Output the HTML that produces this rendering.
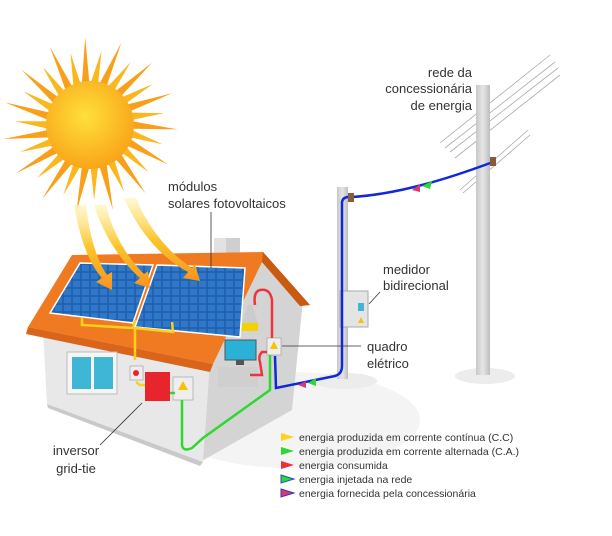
<!DOCTYPE html>
<html><head><meta charset="utf-8"><style>
html,body{margin:0;padding:0;background:#fff}
svg{display:block}
text{font-family:"Liberation Sans",sans-serif;fill:#333}
</style></head><body>
<svg id="s" width="612" height="536" viewBox="0 0 612 536" xmlns="http://www.w3.org/2000/svg">
<defs>
<radialGradient id="sunc" cx="0.45" cy="0.4" r="0.6"><stop offset="0" stop-color="#ffe03a"/><stop offset="1" stop-color="#f9a51a"/></radialGradient>
<linearGradient id="beam" x1="0" y1="0" x2="0" y2="1"><stop offset="0" stop-color="#fff3b0" stop-opacity="0.6"/><stop offset="0.5" stop-color="#fcc52a"/><stop offset="1" stop-color="#f7931e"/></linearGradient>
<linearGradient id="pole" x1="0" x2="1"><stop offset="0" stop-color="#c8c8c8"/><stop offset="0.5" stop-color="#e6e6e6"/><stop offset="1" stop-color="#bdbdbd"/></linearGradient>
<pattern id="cells" width="9" height="8" patternUnits="userSpaceOnUse"><rect width="9" height="8" fill="#1f5fae"/><rect x="0.8" y="0.8" width="7.4" height="6.4" fill="#2f78c8"/></pattern>
</defs>
<!-- ground shadows -->
<ellipse cx="290" cy="420" rx="130" ry="48" fill="#f4f4f4"/>
<ellipse cx="345" cy="381" rx="32" ry="8" fill="#ececec"/>
<ellipse cx="485" cy="376" rx="30" ry="8" fill="#ececec"/>
<!-- wires -->
<g stroke="#aaa" stroke-width="0.8">
<line x1="440" y1="143" x2="550" y2="55"/><line x1="445" y1="148" x2="555" y2="62"/><line x1="450" y1="152" x2="558" y2="68"/><line x1="455" y1="158" x2="560" y2="75"/>
<line x1="460" y1="190" x2="528" y2="130"/><line x1="463" y1="193" x2="530" y2="135"/>
</g>
<!-- poles -->
<rect x="337" y="187" width="11" height="192" fill="url(#pole)"/>
<rect x="476" y="85" width="14" height="290" fill="url(#pole)"/>
<!-- sun rays -->
<g id="rays"></g>
<circle cx="90" cy="125" r="44" fill="url(#sunc)"/>
<!-- house side wall -->
<polygon points="203,363 262,258 303,300 292,410 200,462" fill="#d4d4d4"/>
<!-- front wall -->
<polygon points="43,330 210,362 203,462 47,404" fill="#e8e8e8"/>
<polygon points="47,404 203,462 200,466 48,408" fill="#c9c9c9"/>
<!-- chimney -->
<rect x="214" y="238" width="26" height="18" fill="#cfcfcf"/><rect x="214" y="238" width="12" height="18" fill="#e2e2e2"/>
<!-- roof -->
<polygon points="72,255 263,252 310,305 300,306 262,262 213,364 28,327" fill="#f07a22"/>
<polygon points="263,252 310,305 300,306 262,262" fill="#c95a12"/>
<polygon points="28,327 213,364 210,372 26,334" fill="#d9641a"/>
<!-- panels -->
<polygon points="80,263 153,265 133,323 50,313" fill="url(#cells)" stroke="#fff" stroke-width="1.5"/>
<polygon points="157,265 245,268 240,337 135,327" fill="url(#cells)" stroke="#fff" stroke-width="1.5"/>
<!-- sun beams -->
<path d="M74,205 C80,240 90,265 102,278 L96,282 L112,290 L112,272 L107,275 C98,262 90,240 86,205Z" fill="url(#beam)"/>
<path d="M94,205 C105,240 125,265 140,278 L134,283 L150,288 L148,271 L144,274 C130,260 114,238 106,205Z" fill="url(#beam)"/>
<path d="M124,198 C140,235 165,260 188,272 L183,278 L200,281 L195,264 L192,268 C172,255 150,232 136,198Z" fill="url(#beam)"/>
<!-- window -->
<rect x="67" y="352" width="50" height="42" fill="#f5f5f5" stroke="#bbb"/>
<rect x="72" y="357" width="19" height="32" fill="#3fb6d6"/><rect x="94" y="357" width="19" height="32" fill="#3fb6d6"/>
<!-- inverter etc -->
<rect x="130" y="366" width="13" height="14" fill="#eee" stroke="#999" stroke-width="0.6"/><circle cx="136" cy="373" r="3" fill="#e22"/>
<rect x="145" y="372" width="25" height="29" fill="#e8242c"/>
<rect x="173" y="377" width="20" height="23" fill="#eee" stroke="#999" stroke-width="0.6"/>
<polygon points="183,381 188,390 178,390" fill="#f5c400"/>
<!-- lamp, tv, desk -->
<polygon points="248,305 252,305 258,323 242,323" fill="#ccc"/><rect x="242" y="323" width="16" height="8" fill="#f3d200"/>
<rect x="225" y="340" width="31" height="20" fill="#2bb0d6" stroke="#555"/><rect x="236" y="360" width="8" height="5" fill="#555"/>
<rect x="218" y="367" width="40" height="20" fill="#cfcfcf"/>
<rect x="267" y="338" width="14" height="17" fill="#eee" stroke="#999" stroke-width="0.6"/>
<polygon points="274,341 278,349 270,349" fill="#f5c400"/>
<!-- meter -->
<rect x="340" y="291" width="28" height="36" fill="#e4e4e4" stroke="#aaa"/><rect x="358" y="303" width="6" height="8" fill="#3fb6d6"/><polygon points="361,317 364,323 358,323" fill="#f5c400"/>
<!-- yellow DC lines -->
<polyline points="82,318 82,325 133,328 135,320" fill="none" stroke="#f8d21a" stroke-width="2.5"/>
<polyline points="135,328 173,332 172,322" fill="none" stroke="#f8d21a" stroke-width="2.5"/>
<polyline points="135,328 135,360" fill="none" stroke="#f8d21a" stroke-width="2.5"/>
<polyline points="136,382 140,385 145,385" fill="none" stroke="#f8d21a" stroke-width="2.5"/>
<!-- green AC -->
<polyline points="170,393 175,393" stroke="#2ed82e" stroke-width="2.5" fill="none"/>
<path d="M182,400 L182,445 Q183,452 192,448 L203,438 L270,390 L270,355" stroke="#2ed82e" stroke-width="2.5" fill="none"/>
<!-- red consumption -->
<path d="M272,338 L272,300 Q270,288 260,290 Q253,292 255,305" stroke="#ee3340" stroke-width="2.5" fill="none"/>
<path d="M267,352 L262,352 Q258,356 260,362 L262,375 L250,375" stroke="#ee3340" stroke-width="2.5" fill="none"/>
<!-- blue grid -->
<path d="M275,356 L276,388 L335,376 Q342,374 342,366 L342,202 Q343,196 352,197 C400,194 450,178 493,162" stroke="#1028d8" stroke-width="2.5" fill="none"/>
<polygon points="412,190 420,184 420,192" fill="#d93a6c"/><polygon points="422,186 432,181 430,189" fill="#2ed82e"/>
<polygon points="298,385 306,381 306,388" fill="#d93a6c"/><polygon points="308,383 316,378 316,386" fill="#2ed82e"/>
<rect x="348" y="193" width="6" height="9" fill="#8b5a3c"/><rect x="490" y="157" width="6" height="9" fill="#8b5a3c"/>
<!-- pointer lines -->
<g stroke="#333" stroke-width="0.8">
<line x1="211" y1="212" x2="211" y2="268"/><line x1="361" y1="346" x2="282" y2="346"/>
<line x1="380" y1="292" x2="369" y2="304"/><line x1="100" y1="445" x2="142" y2="403"/>
</g>
<!-- labels -->
<g font-size="13">
<text x="472" y="77" text-anchor="end">rede da</text>
<text x="472" y="93" text-anchor="end">concessionária</text>
<text x="472" y="110" text-anchor="end">de energia</text>
<text x="383" y="274">medidor</text><text x="383" y="290">bidirecional</text>
<text x="367" y="351">quadro</text><text x="367" y="368">elétrico</text>
<text x="168" y="191">módulos</text><text x="168" y="208">solares fotovoltaicos</text>
<text x="76" y="455" text-anchor="middle">inversor</text><text x="76" y="473" text-anchor="middle">grid-tie</text>
</g>
<g font-size="10.5">
<polygon points="281,433 294,437 281,441" fill="#fbd51a"/><text x="299" y="441">energia produzida em corrente contínua (C.C)</text>
<polygon points="281,447 294,451 281,455" fill="#2ed82e"/><text x="299" y="455">energia produzida em corrente alternada (C.A.)</text>
<polygon points="281,461 294,465 281,469" fill="#ee2f3a"/><text x="299" y="469">energia consumida</text>
<polygon points="281,475 294,479 281,483" fill="#2ed82e" stroke="#1f4fd0"/><text x="299" y="483">energia injetada na rede</text>
<polygon points="281,489 294,493 281,497" fill="#d93a6c" stroke="#3a2fd0"/><text x="299" y="497">energia fornecida pela concessionária</text>
</g>
</svg>
<script>
var g=document.getElementById('rays'),h='';
for(var i=0;i<30;i++){var a=i*Math.PI*2/30,b=a+0.09,c=a-0.09,r1=42,r2=(i%2?75:88);
var p=[90+Math.cos(c)*r1,125+Math.sin(c)*r1,90+Math.cos(a+0.05)*r2,125+Math.sin(a+0.05)*r2,90+Math.cos(b)*r1,125+Math.sin(b)*r1];
h+='<polygon points="'+p.join(',')+'" fill="'+(i%2?'#fbb81e':'#f9a01a')+'"/>';}
g.innerHTML=h;
</script>
</body></html>
